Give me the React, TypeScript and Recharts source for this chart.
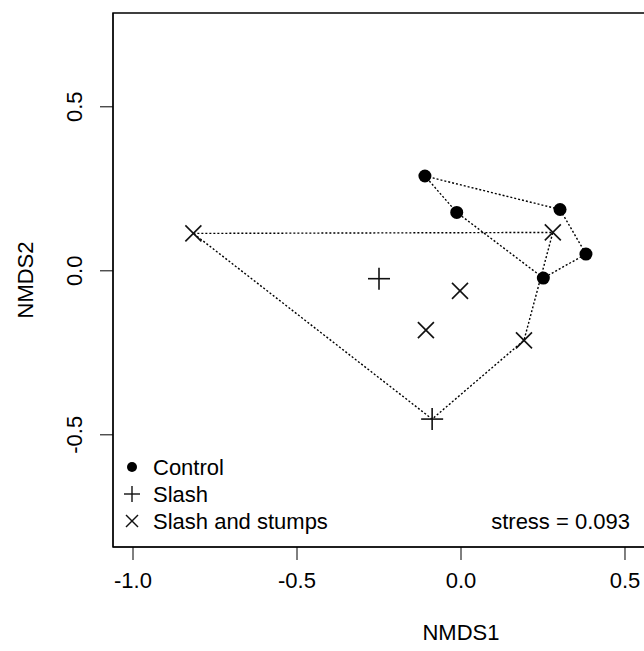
import { ScatterChart, Scatter, XAxis, YAxis, ReferenceArea, Legend, Label } from "recharts";

// NMDS scores
const controlX = [-0.11, -0.013, 0.302, 0.381, 0.251];
const controlY = [0.289, 0.178, 0.187, 0.051, -0.022];
const slashX = [-0.25, -0.088];
const slashY = [-0.024, -0.452];
const stumpsX = [-0.816, 0.28, -0.003, -0.107, 0.192];
const stumpsY = [0.114, 0.117, -0.061, -0.181, -0.212];

const groupNames = ["Control", "Slash", "Slash and stumps"];
const stressLabel = "stress = 0.093";

const xTicks = [-1, -0.5, 0, 0.5, 1];
const yTicks = [-0.5, 0, 0.5];
const xDomain = [-1.061, 1.061];
const yDomain = [-0.842, 0.786];

const FONT = "'Liberation Sans', Arial, sans-serif";
const FS = 22;

const zip = (xs: number[], ys: number[]) => xs.map((x, i) => ({ x, y: ys[i] }));

const control = zip(controlX, controlY);
const slash = zip(slashX, slashY);
const stumps = zip(stumpsX, stumpsY);

// hull outlines as drawn (vertex order)
const controlHull = [0, 2, 3, 4, 1, 0].map((i) => control[i]);
const stumpsHull = [stumps[0], stumps[1], stumps[4], slash[1], stumps[0]];

const Dot = (p: any) => <circle cx={p.cx} cy={p.cy} r={6.5} fill="#000" />;
const Plus = (p: any) => (
  <g stroke="#111" strokeWidth={1.6}>
    <line x1={p.cx - 11} y1={p.cy} x2={p.cx + 11} y2={p.cy} />
    <line x1={p.cx} y1={p.cy - 11} x2={p.cx} y2={p.cy + 11} />
  </g>
);
const Cross = (p: any) => (
  <g stroke="#111" strokeWidth={1.6}>
    <line x1={p.cx - 8} y1={p.cy - 8} x2={p.cx + 8} y2={p.cy + 8} />
    <line x1={p.cx - 8} y1={p.cy + 8} x2={p.cx + 8} y2={p.cy - 8} />
  </g>
);
const NoShape = () => <g />;

const YTick = (p: any) => {
  const x = p.x - 8;
  return (
    <text
      x={x}
      y={p.y}
      transform={`rotate(-90, ${x}, ${p.y})`}
      textAnchor="middle"
      fill="#000"
      fontSize={FS}
      fontFamily={FONT}
    >
      {p.payload.value.toFixed(1)}
    </text>
  );
};

const LegendBox = () => {
  const markers = [
    <circle key="c" cx={19} cy={17} r={5} fill="#000" />,
    <g key="p" stroke="#111" strokeWidth={1.4}>
      <line x1={11} y1={44} x2={27} y2={44} />
      <line x1={19} y1={36} x2={19} y2={52} />
    </g>,
    <g key="x" stroke="#111" strokeWidth={1.4}>
      <line x1={13} y1={65} x2={25} y2={77} />
      <line x1={13} y1={77} x2={25} y2={65} />
    </g>,
  ];
  return (
    <svg width={525} height={90} style={{ display: "block" }}>
      {markers}
      {groupNames.map((n, i) => (
        <text key={n} x={40} y={25 + i * 27} fontSize={FS} fontFamily={FONT} fill="#000">
          {n}
        </text>
      ))}
      <text x={517} y={79} textAnchor="end" fontSize={FS} fontFamily={FONT} fill="#000">
        {stressLabel}
      </text>
    </svg>
  );
};

export default function App() {
  return (
    <div style={{ position: "absolute", left: 0, top: 0, width: 644, height: 651, overflow: "hidden", background: "#fff" }}>
      <ScatterChart width={812} height={651} margin={{ top: 13, right: 3, bottom: 44, left: 53 }}>
        <XAxis
          type="number"
          dataKey="x"
          domain={xDomain}
          allowDataOverflow
          ticks={xTicks}
          tickFormatter={(v: number) => v.toFixed(1)}
          tickSize={13}
          tickMargin={12}
          height={60}
          stroke="#000"
          tick={{ fill: "#000", fontSize: FS, fontFamily: FONT }}
        >
          <Label
            content={(props: any) => {
              const vb = props.viewBox;
              return (
                <text x={vb.x + vb.width / 2} y={640} textAnchor="middle" fontSize={FS} fontFamily={FONT} fill="#000">
                  NMDS1
                </text>
              );
            }}
          />
        </XAxis>
        <YAxis
          type="number"
          dataKey="y"
          domain={yDomain}
          allowDataOverflow
          ticks={yTicks}
          tickSize={13}
          tickMargin={10}
          width={60}
          stroke="#000"
          tick={<YTick />}
        >
          <Label
            content={(props: any) => {
              const vb = props.viewBox;
              const cy = vb.y + vb.height / 2;
              return (
                <text
                  x={33}
                  y={cy}
                  transform={`rotate(-90, 33, ${cy})`}
                  textAnchor="middle"
                  fontSize={FS}
                  fontFamily={FONT}
                  fill="#000"
                >
                  NMDS2
                </text>
              );
            }}
          />
        </YAxis>
        <ReferenceArea
          x1={xDomain[0]}
          x2={xDomain[1]}
          y1={yDomain[0]}
          y2={yDomain[1]}
          fill="none"
          fillOpacity={0}
          stroke="#000"
          strokeWidth={1.5}
          ifOverflow="visible"
        />
        <Scatter
          name="controlHull"
          data={controlHull}
          line={{ stroke: "#000", strokeWidth: 1.4, strokeDasharray: "2 2" }}
          shape={NoShape}
          legendType="none"
          isAnimationActive={false}
        />
        <Scatter
          name="stumpsHull"
          data={stumpsHull}
          line={{ stroke: "#000", strokeWidth: 1.4, strokeDasharray: "2 2" }}
          shape={NoShape}
          legendType="none"
          isAnimationActive={false}
        />
        <Scatter name={groupNames[0]} data={control} shape={Dot} isAnimationActive={false} />
        <Scatter name={groupNames[1]} data={slash} shape={Plus} isAnimationActive={false} />
        <Scatter name={groupNames[2]} data={stumps} shape={Cross} isAnimationActive={false} />
        <Legend
          layout="horizontal"
          verticalAlign="middle"
          align="center"
          content={<LegendBox />}
          wrapperStyle={{ position: "absolute", left: 113, top: 450, width: 525 }}
        />
      </ScatterChart>
    </div>
  );
}
